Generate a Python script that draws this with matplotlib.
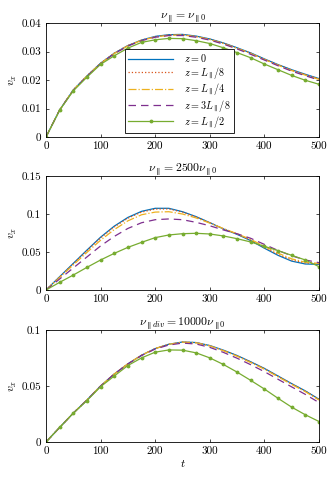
import numpy as np
import matplotlib
matplotlib.use("Agg")
import matplotlib.pyplot as plt

plt.rcParams['font.family'] = 'serif'
plt.rcParams['font.serif'] = ['cmr10']
plt.rcParams['mathtext.fontset'] = 'cm'
plt.rcParams['axes.unicode_minus'] = False
plt.rcParams['axes.formatter.use_mathtext'] = True

t = np.arange(0, 501, 25)

labels = [r'$z=0$', r'$z=L_\parallel/8$', r'$z=L_\parallel/4$', r'$z=3L_\parallel/8$', r'$z=L_\parallel/2$']
titles = [r'$\nu_\parallel = \nu_{\parallel 0}$', r'$\nu_\parallel = 2500\nu_{\parallel 0}$',
          r'$\nu_{\parallel div} = 10000\nu_{\parallel 0}$']

# Panel 1
p1_z0 = [0, 0.0095, 0.0165, 0.0214, 0.0259, 0.0294, 0.0321, 0.0340, 0.0353, 0.0359, 0.0360,
         0.0354, 0.0344, 0.0330, 0.0313, 0.0295, 0.0274, 0.0254, 0.0236, 0.0220, 0.0205]
p1_l8 = [0, 0.0095, 0.0165, 0.0214, 0.0259, 0.0294, 0.0321, 0.0340, 0.0352, 0.0358, 0.0359,
         0.0353, 0.0343, 0.0329, 0.0312, 0.0294, 0.0273, 0.0253, 0.0235, 0.0219, 0.0204]
p1_l4 = [0, 0.0095, 0.0165, 0.0214, 0.0258, 0.0293, 0.0320, 0.0339, 0.0351, 0.0357, 0.0358,
         0.0352, 0.0342, 0.0328, 0.0311, 0.0293, 0.0272, 0.0252, 0.0233, 0.0217, 0.0202]
p1_3l8 = [0, 0.0095, 0.0164, 0.0213, 0.0257, 0.0292, 0.0319, 0.0338, 0.0350, 0.0356, 0.0356,
          0.0350, 0.0340, 0.0326, 0.0309, 0.0290, 0.0270, 0.0250, 0.0231, 0.0215, 0.0200]
p1_l2 = [0, 0.0094, 0.0162, 0.0210, 0.0255, 0.0285, 0.0312, 0.0332, 0.0341, 0.0346, 0.0345,
         0.0338, 0.0328, 0.0313, 0.0296, 0.0278, 0.0256, 0.0236, 0.0216, 0.0199, 0.0185]

# Panel 2
p2_z0 = [0, 0.0175, 0.0350, 0.0525, 0.0695, 0.0840, 0.0955, 0.1035, 0.1075, 0.1075, 0.1030,
         0.0965, 0.0886, 0.0803, 0.0732, 0.0650, 0.0550, 0.0456, 0.0380, 0.0342, 0.0338]
p2_l8 = [0, 0.0172, 0.0345, 0.0518, 0.0686, 0.0830, 0.0945, 0.1025, 0.1065, 0.1067, 0.1025,
         0.0962, 0.0886, 0.0805, 0.0735, 0.0655, 0.0560, 0.0468, 0.0395, 0.0355, 0.0345]
p2_l4 = [0, 0.0165, 0.0330, 0.0495, 0.0655, 0.0795, 0.0910, 0.0990, 0.1025, 0.1030, 0.1000,
         0.0948, 0.0880, 0.0808, 0.0740, 0.0665, 0.0575, 0.0485, 0.0410, 0.0365, 0.0350]
p2_3l8 = [0, 0.0145, 0.0290, 0.0435, 0.0580, 0.0705, 0.0810, 0.0885, 0.0925, 0.0935, 0.0925,
          0.0890, 0.0845, 0.0790, 0.0740, 0.0680, 0.0600, 0.0520, 0.0450, 0.0395, 0.0360]
p2_l2 = [0, 0.0101, 0.0197, 0.0298, 0.0395, 0.0482, 0.0561, 0.0627, 0.0689, 0.0724, 0.0741,
         0.0746, 0.0737, 0.0711, 0.0675, 0.0632, 0.0575, 0.0518, 0.0456, 0.0395, 0.0307]

# Panel 3
p3_z0 = [0, 0.0130, 0.0258, 0.0375, 0.0500, 0.0607, 0.0698, 0.0775, 0.0834, 0.0873, 0.0893,
         0.0888, 0.0861, 0.0820, 0.0772, 0.0716, 0.0657, 0.0589, 0.0521, 0.0456, 0.0382]
p3_l8 = [0, 0.0130, 0.0258, 0.0375, 0.0500, 0.0607, 0.0698, 0.0775, 0.0834, 0.0872, 0.0892,
         0.0887, 0.0860, 0.0818, 0.0770, 0.0714, 0.0655, 0.0587, 0.0519, 0.0454, 0.0380]
p3_l4 = [0, 0.0130, 0.0258, 0.0375, 0.0500, 0.0607, 0.0698, 0.0775, 0.0834, 0.0872, 0.0892,
         0.0886, 0.0858, 0.0815, 0.0766, 0.0709, 0.0650, 0.0582, 0.0514, 0.0449, 0.0375]
p3_3l8 = [0, 0.0130, 0.0258, 0.0375, 0.0500, 0.0607, 0.0697, 0.0772, 0.0830, 0.0866, 0.0883,
          0.0875, 0.0845, 0.0800, 0.0748, 0.0690, 0.0628, 0.0560, 0.0492, 0.0425, 0.0352]
p3_l2 = [0, 0.0130, 0.0257, 0.0370, 0.0494, 0.0589, 0.0683, 0.0751, 0.0802, 0.0822, 0.0820,
         0.0796, 0.0751, 0.0692, 0.0624, 0.0550, 0.0473, 0.0390, 0.0311, 0.0243, 0.0183]

panels = [
    [p1_z0, p1_l8, p1_l4, p1_3l8, p1_l2],
    [p2_z0, p2_l8, p2_l4, p2_3l8, p2_l2],
    [p3_z0, p3_l8, p3_l4, p3_3l8, p3_l2],
]
ylims = [(0, 0.04), (0, 0.15), (0, 0.1)]
yticks = [[0, 0.01, 0.02, 0.03, 0.04], [0, 0.05, 0.1, 0.15], [0, 0.05, 0.1]]
yticklabels = [['0', '0.01', '0.02', '0.03', '0.04'], ['0', '0.05', '0.1', '0.15'], ['0', '0.05', '0.1']]
xticks = [0, 100, 200, 300, 400, 500]

colors = ['#0072BD', '#D95319', '#EDB120', '#7E2F8E', '#77AC30']
styles = ['-', ':', '-.', (0, (6, 4)), '-']
markers = [None, None, None, None, '.']

fig = plt.figure(figsize=(3.34, 4.8), dpi=100)
W, H = 334, 480
boxes = [(46, 23, 319, 137), (46, 176, 319, 290), (46, 330, 319, 442)]

for i, (x0, y0, x1, y1) in enumerate(boxes):
    ax = fig.add_axes([x0 / W, 1 - y1 / H, (x1 - x0) / W, (y1 - y0) / H])
    for j, ser in enumerate(panels[i]):
        ax.plot(t, ser, color=colors[j], linestyle=styles[j], marker=markers[j],
                markersize=3.5, linewidth=0.9, label=labels[j])
    ax.set_xlim(0, 500)
    ax.set_ylim(*ylims[i])
    ax.set_xticks(xticks)
    ax.set_xticklabels([str(v) for v in xticks])
    ax.set_yticks(yticks[i])
    ax.set_yticklabels(yticklabels[i])
    ax.tick_params(direction='in', top=True, right=True, labelsize=8, length=2.5, width=0.5)
    for s in ax.spines.values():
        s.set_linewidth(0.6)
    ax.set_title(titles[i], fontsize=8.5, pad=3)
    ax.set_ylabel(r'$v_x$', fontsize=8.5, labelpad=2)
    if i == 2:
        ax.set_xlabel(r'$t$', fontsize=8.5, labelpad=1)
    if i == 0:
        leg = ax.legend(loc='lower left', bbox_to_anchor=(0.29, 0.035), fontsize=7.3,
                        fancybox=False, edgecolor='black', framealpha=1, handlelength=4.4,
                        borderpad=0.3, labelspacing=0.05, handletextpad=1.1, borderaxespad=0)
        leg.get_frame().set_linewidth(0.6)

fig.savefig('out.png', dpi=100)
